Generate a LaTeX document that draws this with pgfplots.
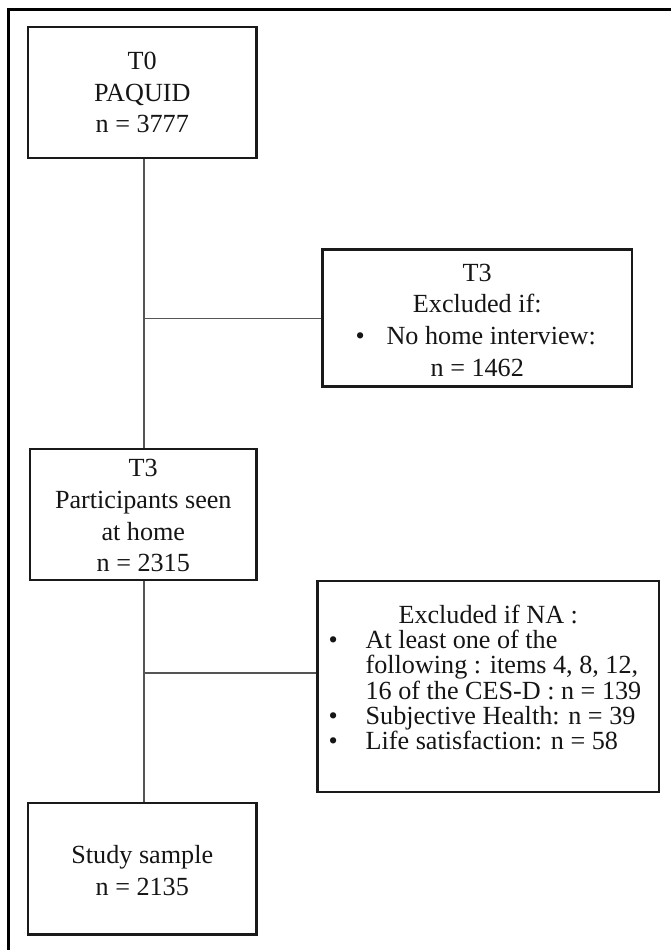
\documentclass[border=0pt]{standalone}
\usepackage{pgfplots}
\pgfplotsset{compat=1.18}
\usepackage{fontspec}
\setmainfont{Liberation Serif}
\definecolor{boxc}{HTML}{1A1A1A}
\definecolor{linec}{HTML}{555555}
\definecolor{txt}{HTML}{151515}
\begin{document}
\begin{tikzpicture}
\begin{axis}[width=671bp, height=950bp, scale only axis,
  xmin=0, xmax=671, ymin=0, ymax=950, y dir=reverse,
  hide axis, clip=false,
  every axis plot/.append style={mark=none, line cap=rect, line join=miter}]
% invisible frame corners
\addplot[draw=none] coordinates {(0,0) (671,950)};
% outer border (top and left visible)
\addplot[black, line width=3bp] coordinates {(9,950) (9,10) (671,10)};
% connectors
\addplot[linec, line width=1.6bp, line cap=butt] coordinates {(144,158) (144,450)};
\addplot[linec, line width=1.6bp, line cap=butt] coordinates {(144,319) (323,319)};
\addplot[linec, line width=1.6bp, line cap=butt] coordinates {(144,581) (144,804)};
\addplot[linec, line width=1.6bp, line cap=butt] coordinates {(144,674) (318,674)};
% boxes
\addplot[boxc, line width=2.4bp] coordinates {(28,27) (257,27) (257,158) (28,158) (28,27)};
\addplot[boxc, line width=2.4bp] coordinates {(323,250) (633,250) (633,387) (323,387) (323,250)};
\addplot[boxc, line width=2.4bp] coordinates {(30,450) (257,450) (257,581) (30,581) (30,450)};
\addplot[boxc, line width=2.4bp] coordinates {(318,582) (660,582) (660,793) (318,793) (318,582)};
\addplot[boxc, line width=2.4bp] coordinates {(28,804) (257,804) (257,936) (28,936) (28,804)};
% texts
\begin{scope}[every node/.style={anchor=base, inner sep=0pt, text=txt, font=\fontsize{26.3}{30}\selectfont}]
\node at (axis cs:142.5,70) {T0};
\node at (axis cs:142.5,102) {PAQUID};
\node at (axis cs:142.5,133) {n = 3777};
\node at (axis cs:478,282) {T3};
\node at (axis cs:478,313) {Excluded if:};
\node[anchor=base west] at (axis cs:356,345) {•};
\node[anchor=base west] at (axis cs:387,345) {No home interview:};
\node at (axis cs:478,377) {n = 1462};
\node at (axis cs:143.5,477) {T3};
\node at (axis cs:143.5,509) {Participants seen};
\node at (axis cs:143.5,541) {at home};
\node at (axis cs:143.5,572) {n = 2315};
\node at (axis cs:489,624) {Excluded if NA :};
\node[anchor=base west] at (axis cs:329,650) {•};
\node[anchor=base west] at (axis cs:366,650) {At least one of the};
\node[anchor=base west] at (axis cs:366,675) {following : items 4, 8, 12,};
\node[anchor=base west] at (axis cs:366,701) {16 of the CES-D : n = 139};
\node[anchor=base west] at (axis cs:329,726) {•};
\node[anchor=base west] at (axis cs:366,726) {Subjective Health: n = 39};
\node[anchor=base west] at (axis cs:329,751) {•};
\node[anchor=base west] at (axis cs:366,751) {Life satisfaction: n = 58};
\node at (axis cs:142.5,865) {Study sample};
\node at (axis cs:142.5,897) {n = 2135};
\end{scope}
\end{axis}
\end{tikzpicture}
\end{document}
